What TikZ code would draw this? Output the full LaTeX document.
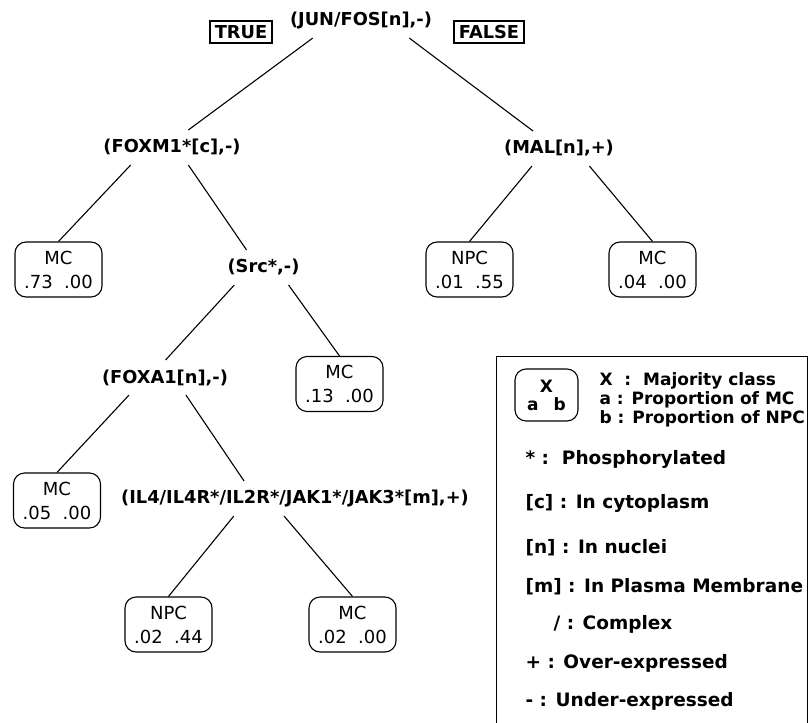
\documentclass[tikz,border=0pt]{standalone}
\usepackage{fontspec}
\setmainfont{DejaVu Sans}
\usepackage{tikz}

\begin{document}
\begin{tikzpicture}[x=1pt, y=-1pt, line width=1.1pt,
  cond/.style={inner sep=0pt, minimum height=34pt, font=\fontsize{17.8}{20}\selectfont\bfseries},
  leaf/.style={draw, rounded corners=11pt, minimum width=87pt, minimum height=55pt, inner sep=0pt, align=center, font=\fontsize{18}{24}\selectfont},
  flag/.style={draw, line width=1.6pt, inner xsep=5pt, inner ysep=0pt, minimum height=22pt, font=\fontsize{17.8}{20}\selectfont\bfseries},
  key/.style={anchor=base west, inner sep=0pt, font=\fontsize{18.5}{22}\selectfont\bfseries},
  keytop/.style={key, font=\fontsize{17}{20}\selectfont\bfseries}]
\useasboundingbox (0,0) rectangle (810,722);
\node[cond] (root) at (361,20.5) {(JUN/FOS[n],-)};
\node[flag] (true) at (241,32) {TRUE};
\node[flag] (false) at (489,32) {FALSE};
\node[cond] (foxm1) at (172,147.5) {(FOXM1*[c],-)};
\node[cond] (mal) at (559,148.5) {(MAL[n],+)};
\node[leaf] (mc1) at (58.5,269.5) {MC\\.73~~.00};
\node[cond] (src) at (263.5,267.5) {(Src*,-)};
\node[leaf] (npc1) at (469.5,269.5) {NPC\\.01~~.55};
\node[leaf] (mc2) at (652.5,269.5) {MC\\.04~~.00};
\node[cond] (foxa1) at (165,377.5) {(FOXA1[n],-)};
\node[leaf] (mc3) at (339.5,384) {MC\\.13~~.00};
\node[leaf] (mc4) at (57,500.5) {MC\\.05~~.00};
\node[cond] (il4) at (295,498.5) {(IL4/IL4R*/IL2R*/JAK1*/JAK3*[m],+)};
\node[leaf] (npc2) at (168.5,624.5) {NPC\\.02~~.44};
\node[leaf] (mc5) at (352.5,624.5) {MC\\.02~~.00};
\draw (root.200) -- (foxm1.47);
\draw (root.340) -- (mal.146);
\draw (foxm1.203) -- (mc1.north);
\draw (foxm1.313) -- (src.134);
\draw (mal.213) -- (npc1.north);
\draw (mal.330) -- (mc2.north);
\draw (src.211) -- (foxa1.88);
\draw (src.325) -- (mc3.north);
\draw (foxa1.206) -- (mc4.north);
\draw (foxa1.320) -- (il4.161);
\draw (il4.196) -- (npc2.north);
\draw (il4.238) -- (mc5.north);
\node[draw, anchor=north west, inner sep=0pt, minimum width=311pt, minimum height=380pt] (legend) at (496,356) {};
\node[draw, rounded corners=11pt, minimum width=63pt, minimum height=52pt, inner sep=0pt, align=center, font=\fontsize{17}{18}\selectfont\bfseries] (keybox) at (546.5,395) {X\\a\hspace{15pt}b};
\node[keytop] (kx) at (599,385) {X~~:~~Majority class};
\node[keytop] (ka) at (599,404) {a : Proportion of MC};
\node[keytop] (kb) at (599,423) {b : Proportion of NPC};
\node[key] (kstar) at (525,464) {*~:~~Phosphorylated};
\node[key] (kc) at (525,508) {[c] : In cytoplasm};
\node[key] (kn) at (525,553) {[n] : In nuclei};
\node[key] (km) at (525,592) {[m] : In Plasma Membrane};
\node[key] (kslash) at (553,629) {/ : Complex};
\node[key] (kplus) at (525,668) {+ : Over-expressed};
\node[key] (kminus) at (525,706) {- : Under-expressed};
\end{tikzpicture}
\end{document}
